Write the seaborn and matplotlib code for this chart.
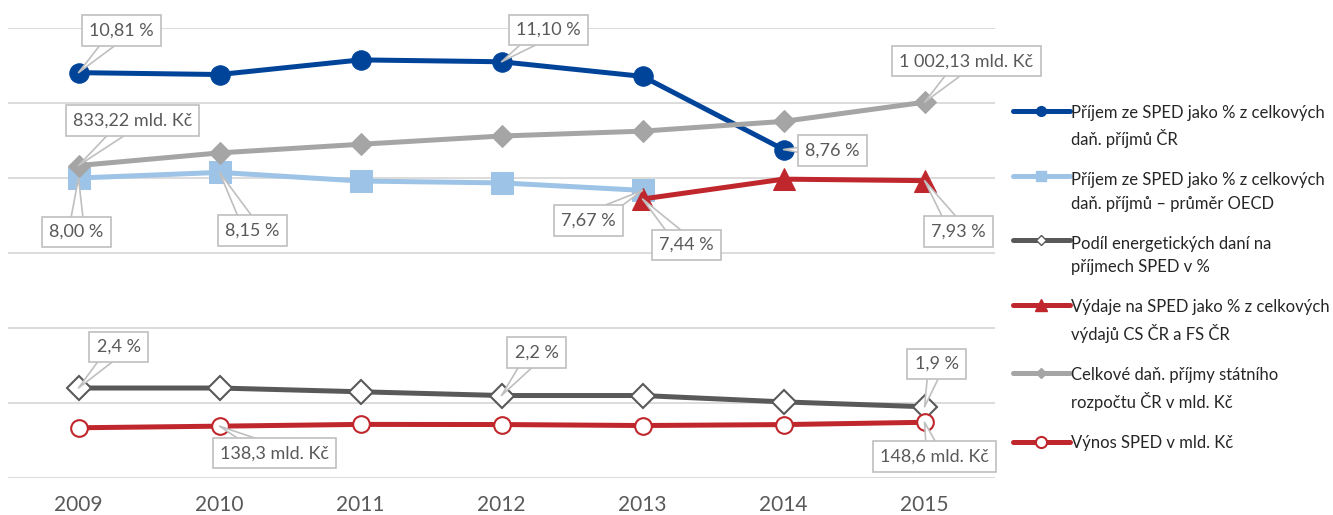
import matplotlib
matplotlib.use("Agg")
import matplotlib.pyplot as plt
from matplotlib.lines import Line2D
from matplotlib.legend_handler import HandlerLine2D
import seaborn as sns
import numpy as np

years = ["2009", "2010", "2011", "2012", "2013", "2014", "2015"]

# primary axis (%)
prijem_cr = [10.81, 10.76, 11.15, 11.10, 10.71, 8.76]          # 2009-2014
prijem_oecd = [8.00, 8.15, 7.92, 7.87, 7.67]                    # 2009-2013
podil_energ = [2.4, 2.4, 2.3, 2.2, 2.2, 2.03, 1.9]              # 2009-2015
vydaje = [7.44, 7.97, 7.93]                                      # 2013-2015
# secondary axis (mld. Kč)
celk_prijmy = [833.22, 867.0, 890.0, 912.0, 925.0, 951.0, 1002.13]
vynos = [134.0, 138.3, 143.0, 142.6, 140.0, 142.5, 148.6]

labels = [
    "Příjem ze SPED jako % z celkových\ndaň. příjmů ČR",
    "Příjem ze SPED jako % z celkových\ndaň. příjmů – průměr OECD",
    "Podíl energetických daní na\npříjmech SPED v %",
    "Výdaje na SPED jako % z celkových\nvýdajů CS ČR a FS ČR",
    "Celkové daň. příjmy státního\nrozpočtu ČR v mld. Kč",
    "Výnos SPED v mld. Kč",
]

C_BLUE = "#00449A"
C_LBLUE = "#9DC3E6"
C_DGRAY = "#595959"
C_RED = "#C0272D"
C_LGRAY = "#A5A5A5"
TXT = "#595959"

sns.set_theme(style="white")
plt.rcParams["font.family"] = ["Lato", "DejaVu Sans"]

fig = plt.figure(figsize=(13.33, 5.15), dpi=100)
ax1 = fig.add_axes([0.006, 0.0718, 0.7405, 0.8738])
ax2 = ax1.twinx()

idx = np.arange(len(years))
lw = 3.6

sns.lineplot(x=idx[:6], y=prijem_cr, ax=ax1, color=C_BLUE, lw=lw, marker="o",
             markersize=14, markeredgecolor=C_BLUE, markerfacecolor=C_BLUE)
sns.lineplot(x=idx[:5], y=prijem_oecd, ax=ax1, color=C_LBLUE, lw=lw, marker="s",
             markersize=16, markeredgecolor=C_LBLUE, markerfacecolor=C_LBLUE)
sns.lineplot(x=idx, y=podil_energ, ax=ax1, color=C_DGRAY, lw=lw, marker="D",
             markersize=12, markeredgecolor=C_DGRAY, markerfacecolor="white",
             markeredgewidth=1.5)
sns.lineplot(x=idx[4:], y=vydaje, ax=ax1, color=C_RED, lw=lw, marker="^",
             markersize=16, markeredgecolor=C_RED, markerfacecolor=C_RED)
sns.lineplot(x=idx, y=celk_prijmy, ax=ax2, color=C_LGRAY, lw=lw, marker="D",
             markersize=11, markeredgecolor=C_LGRAY, markerfacecolor=C_LGRAY)
sns.lineplot(x=idx, y=vynos, ax=ax2, color=C_RED, lw=lw, marker="o",
             markersize=12, markeredgecolor=C_RED, markerfacecolor="white",
             markeredgewidth=1.5)

ax1.set_xlim(-0.5, 6.5)
ax1.set_ylim(0, 12)
ax2.set_ylim(0, 1200)
ax1.set_yticks(np.arange(0, 13, 2))
ax2.set_yticks([])
ax1.set_yticklabels([])
ax1.yaxis.grid(True, color="#D9D9D9", lw=1.3)
ax1.xaxis.grid(False)
ax1.set_xticks(idx)
ax1.set_xticklabels(years, fontsize=15, color=TXT)
ax1.tick_params(axis="x", length=0, pad=12)
ax1.tick_params(axis="y", length=0)
for ax in (ax1, ax2):
    for s in ax.spines.values():
        s.set_visible(False)
    ax.set_xlabel("")
    ax.set_ylabel("")
ax1.set_axisbelow(True)

def callout(i, val, text, dx, dy, trans):
    ax2.annotate(text, xy=(i, val), xycoords=trans,
                 xytext=(dx, dy), textcoords="offset pixels",
                 ha="center", va="center", fontsize=13, color=TXT,
                 bbox=dict(boxstyle="square,pad=0.4", fc="white", ec="#BFBFBF", lw=1.2),
                 arrowprops=dict(arrowstyle="wedge,tail_width=0.9,shrink_factor=0.5",
                                 fc="white", ec="#BFBFBF", lw=1.2, patchA=None,
                                 shrinkA=0, shrinkB=0),
                 zorder=10)

t1 = ax1.transData
t2 = ax2.transData
callout(0, prijem_cr[0], "10,81 %", 43, 42, t1)
callout(3, prijem_cr[3], "11,10 %", 47, 32, t1)
callout(5, prijem_cr[5], "8,76 %", 49, -1, t1)
callout(0, prijem_oecd[0], "8,00 %", -2, -54, t1)
callout(1, prijem_oecd[1], "8,15 %", 33, -58, t1)
callout(4, prijem_oecd[4], "7,67 %", -54, -30, t1)
callout(4, vydaje[0], "7,44 %", 44, -46, t1)
callout(6, vydaje[2], "7,93 %", 34, -51, t1)
callout(0, podil_energ[0], "2,4 %", 40, 41, t1)
callout(3, podil_energ[3], "2,2 %", 35, 43, t1)
callout(6, podil_energ[6], "1,9 %", 12, 43, t1)
callout(0, celk_prijmy[0], "833,22 mld. Kč", 54, 45, t2)
callout(6, celk_prijmy[6], "1 002,13 mld. Kč", 42, 41, t2)
callout(1, vynos[1], "138,3 mld. Kč", 55, -27, t2)
callout(6, vynos[6], "148,6 mld. Kč", 10, -34, t2)


class TopLineHandler(HandlerLine2D):
    """Aligns the handle with the first line of a two-line label."""
    def __init__(self, shift, **kw):
        super().__init__(**kw)
        self.shift = shift

    def create_artists(self, legend, orig_handle, xdescent, ydescent, width,
                       height, fontsize, trans):
        arts = super().create_artists(legend, orig_handle, xdescent, ydescent,
                                      width, height, fontsize, trans)
        for a in arts:
            a.set_ydata(np.asarray(a.get_ydata(), dtype=float) + self.shift)
        return arts


FS_LEG = 12
LSP = 1.55
shift = FS_LEG * LSP * 0.64

handles = [
    Line2D([], [], color=C_BLUE, lw=lw, marker="o", ms=7, mfc=C_BLUE, mec=C_BLUE),
    Line2D([], [], color=C_LBLUE, lw=lw, marker="s", ms=7, mfc=C_LBLUE, mec=C_LBLUE),
    Line2D([], [], color=C_DGRAY, lw=lw, marker="D", ms=5, mfc="white", mec=C_DGRAY),
    Line2D([], [], color=C_RED, lw=lw, marker="^", ms=8, mfc=C_RED, mec=C_RED),
    Line2D([], [], color=C_LGRAY, lw=lw, marker="D", ms=5, mfc=C_LGRAY, mec=C_LGRAY),
    Line2D([], [], color=C_RED, lw=lw, marker="o", ms=8, mfc="white", mec=C_RED, mew=1.5),
]
hmap = {h: TopLineHandler(shift if "\n" in lab else 0.0)
        for h, lab in zip(handles, labels)}
leg = fig.legend(handles, labels, loc="upper left", bbox_to_anchor=(0.755, 0.81),
                 frameon=False, fontsize=FS_LEG, numpoints=1, handlelength=3.4,
                 handletextpad=0.1, labelspacing=1.45, borderaxespad=0,
                 handler_map=hmap)
for t in leg.get_texts():
    t.set_color("#262626")
    t.set_linespacing(LSP)

fig.savefig("out.png", dpi=100)
